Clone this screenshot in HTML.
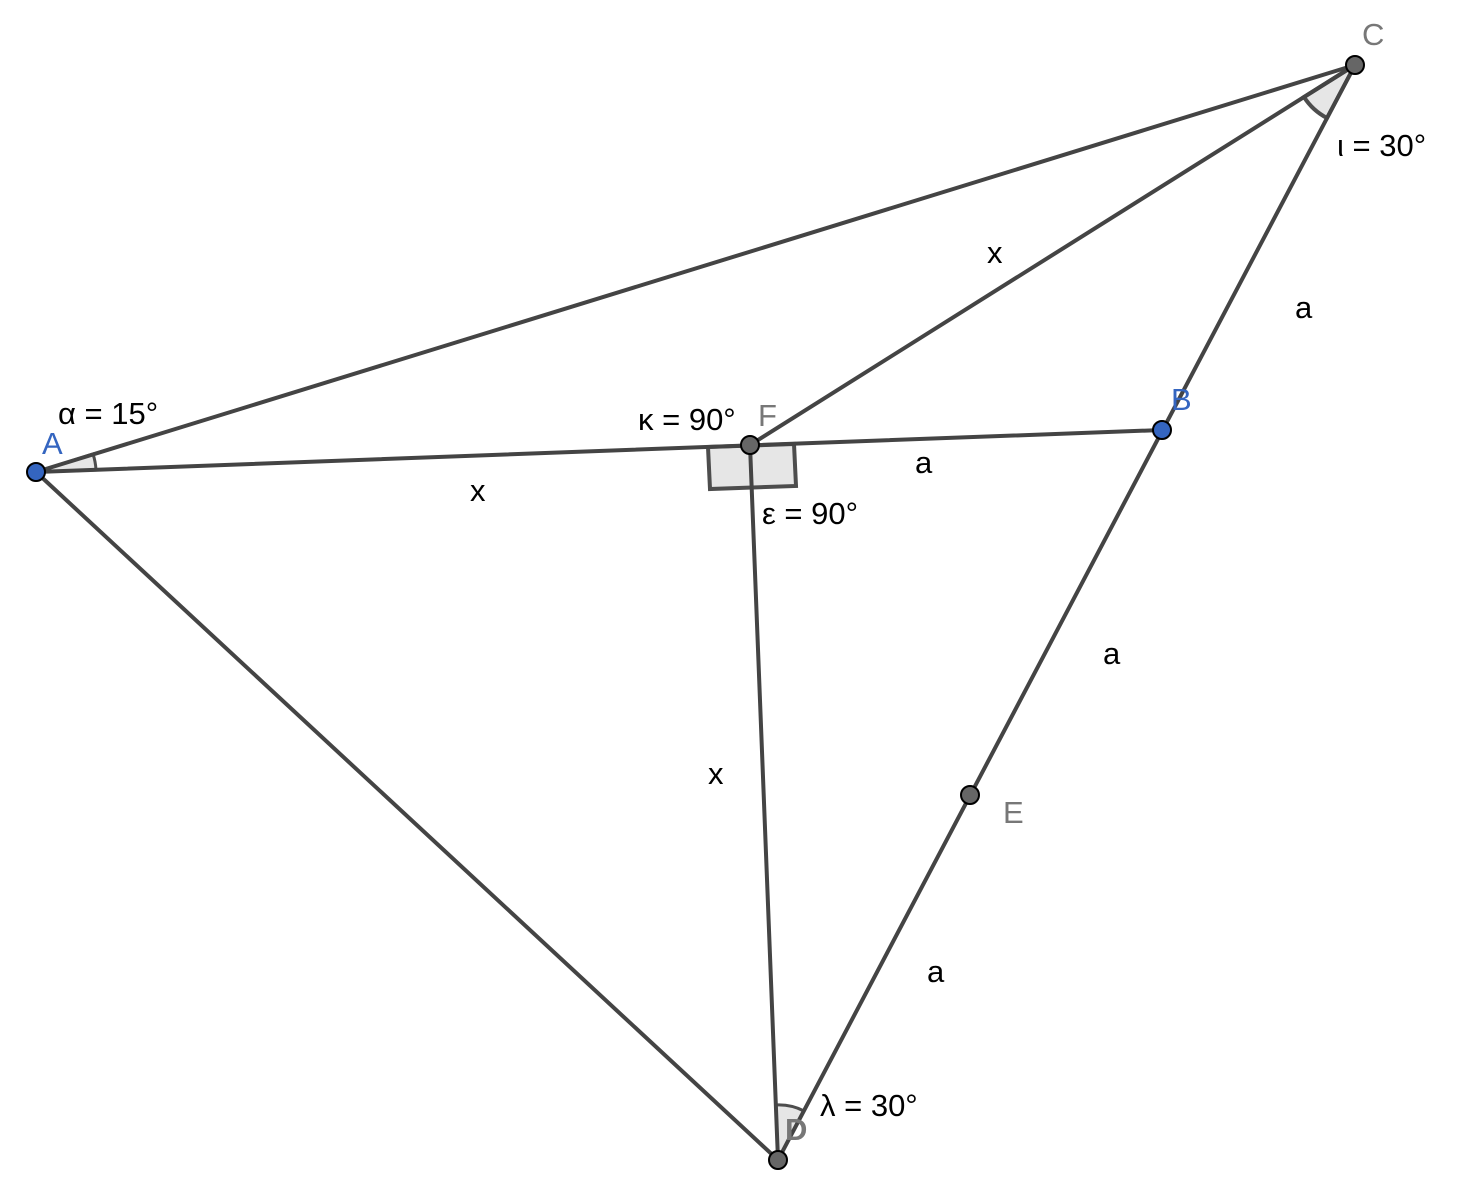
<!DOCTYPE html>
<html><head><meta charset="utf-8"><style>html,body{margin:0;padding:0;background:#fff}svg{display:block}text{font-family:"Liberation Sans",sans-serif;font-size:31px}</style></head>
<body>
<svg width="1458" height="1186" viewBox="0 0 1458 1186" xmlns="http://www.w3.org/2000/svg">
<g fill="#e6e6e6" stroke="#4d4d4d" stroke-width="3">
<path d="M36,472 L93,454 A60,60 0 0 1 96,470 Z"/>
<path d="M1355,65 L1304,97 A60,60 0 0 0 1327,118 Z" stroke-width="4"/>
<path d="M778,1160 L776,1105 A55,55 0 0 1 804,1111 Z"/>
<path d="M708,447 L794,444 L796,486 L710,489 Z" stroke-width="4"/>
</g>
<g stroke="#444" stroke-width="4" fill="none" stroke-linecap="round">
<line x1="36" y1="472" x2="1355" y2="65"/>
<line x1="36" y1="472" x2="1162" y2="430"/>
<line x1="36" y1="472" x2="778" y2="1160"/>
<line x1="750" y1="445" x2="1355" y2="65"/>
<line x1="750" y1="445" x2="778" y2="1160"/>
<line x1="1355" y1="65" x2="778" y2="1160"/>
</g>
<g stroke="#000" stroke-width="2">
<circle cx="36" cy="472" r="9" fill="#3465c0"/>
<circle cx="1162" cy="430" r="9" fill="#3465c0"/>
<circle cx="1355" cy="65" r="9" fill="#666"/>
<circle cx="750" cy="445" r="9" fill="#666"/>
<circle cx="970" cy="795" r="9" fill="#666"/>
<circle cx="778" cy="1160" r="9" fill="#666"/>
</g>
<g fill="#3465c0"><text x="42" y="454">A</text><text x="1171" y="410">B</text></g>
<g fill="#777"><text x="1362" y="45">C</text><text x="758" y="426">F</text><text x="1003" y="823">E</text><text x="785" y="1140" font-weight="bold">D</text></g>
<g fill="#000">
<text x="58" y="424">α = 15°</text>
<text x="1337" y="156">ι = 30°</text>
<text x="638" y="430">κ = 90°</text>
<text x="762" y="524">ε = 90°</text>
<text x="820" y="1116">λ = 30°</text>
<text x="470" y="501">x</text>
<text x="987" y="263">x</text>
<text x="708" y="784">x</text>
<text x="1295" y="318">a</text>
<text x="915" y="473">a</text>
<text x="1103" y="664">a</text>
<text x="927" y="982">a</text>
</g>
</svg>
</body></html>
